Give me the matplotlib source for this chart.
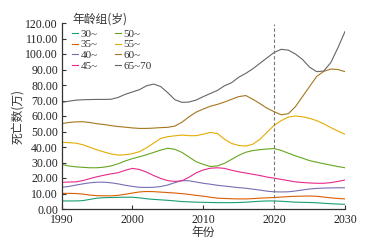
import matplotlib
matplotlib.use("Agg")
import matplotlib.pyplot as plt
import numpy as np

plt.rcParams['font.family'] = ['Liberation Serif', 'Noto Sans CJK SC', 'DejaVu Sans']

years = list(range(1990, 2031))
labels = ["30~", "35~", "40~", "45~", "50~", "55~", "60~", "65~70"]
colors = ["#1b9e77", "#d95f02", "#7570b3", "#e7298a", "#66a61e", "#e6ab02", "#a6761d", "#666666"]
legend_title = "年龄组(岁)"

age_30 = [5.2, 5.2, 5.2, 5.4, 6.2, 7.0, 7.3, 7.4, 7.5, 7.6, 7.6, 7.2, 6.6, 6.2, 5.9, 5.6, 5.2, 4.8, 4.6, 4.4,
          4.3, 4.2, 4.1, 4.1, 4.1, 4.2, 4.4, 4.7, 5.0, 5.2, 5.2, 5.0, 4.7, 4.4, 4.3, 4.2, 4.0, 3.7, 3.4, 3.2, 3.0]
age_35 = [10.1, 10.1, 10.0, 9.6, 9.0, 8.6, 8.5, 8.5, 8.8, 9.5, 10.3, 11.0, 11.3, 11.2, 10.9, 10.6, 10.3, 9.9, 9.4, 8.8,
          8.3, 7.6, 7.0, 6.8, 6.6, 6.5, 6.5, 6.7, 7.0, 7.2, 7.4, 7.7, 8.0, 8.2, 8.3, 8.4, 8.2, 7.7, 7.2, 6.8, 6.5]
age_40 = [14.0, 14.5, 15.4, 16.2, 16.9, 17.3, 17.3, 16.9, 16.2, 15.3, 14.6, 14.0, 13.9, 14.0, 14.5, 15.5, 17.0, 18.3, 18.2, 17.4,
          16.6, 16.0, 15.3, 14.8, 14.3, 13.8, 13.4, 12.8, 12.2, 11.5, 11.1, 11.0, 11.1, 11.6, 12.3, 12.9, 13.3, 13.5, 13.6, 13.7, 13.7]
age_45 = [17.2, 17.4, 17.5, 18.3, 19.6, 20.8, 21.8, 22.7, 23.4, 25.0, 26.2, 25.5, 23.8, 21.6, 19.7, 18.3, 17.8, 18.2, 20.5, 23.3,
          25.2, 26.3, 26.6, 26.2, 25.0, 24.0, 23.2, 22.4, 21.6, 20.6, 19.9, 19.1, 18.3, 17.5, 17.1, 16.8, 16.6, 16.6, 17.0, 17.8, 18.7]
age_50 = [28.8, 27.8, 27.2, 26.9, 26.6, 26.6, 27.0, 27.8, 29.2, 31.0, 32.5, 33.7, 35.0, 36.5, 38.0, 39.2, 38.5, 36.5, 33.5, 30.5,
          28.8, 27.4, 27.8, 29.5, 32.0, 34.6, 36.6, 37.7, 38.3, 38.7, 39.0, 37.8, 36.0, 34.3, 32.8, 31.2, 30.2, 29.2, 28.3, 27.4, 26.6]
age_55 = [43.0, 42.8, 42.5, 41.5, 39.8, 38.2, 36.8, 35.5, 34.8, 35.0, 35.7, 37.0, 39.5, 42.5, 45.5, 46.7, 47.2, 47.7, 47.3, 47.3,
          48.3, 49.4, 48.7, 45.0, 42.3, 41.0, 40.6, 41.8, 45.0, 49.5, 54.0, 57.0, 59.3, 60.0, 59.5, 58.5, 57.0, 55.0, 52.5, 50.3, 48.2]
age_60 = [55.0, 55.8, 56.2, 56.3, 55.8, 55.0, 54.5, 53.8, 53.2, 52.8, 52.3, 52.0, 52.0, 52.2, 52.5, 52.7, 53.5, 56.0, 59.5, 62.5,
          64.5, 66.3, 67.5, 69.0, 70.8, 72.5, 73.2, 70.8, 68.0, 65.0, 62.8, 60.8, 61.5, 66.0, 72.5, 79.0, 85.5, 88.8, 90.3, 90.0, 88.6]
age_65 = [68.8, 69.5, 70.2, 70.5, 70.6, 70.7, 70.7, 70.8, 72.0, 74.0, 75.5, 77.0, 79.5, 80.6, 79.0, 75.0, 70.5, 68.8, 69.0, 70.3,
          72.5, 74.5, 76.5, 79.5, 81.5, 85.0, 87.5, 90.5, 94.0, 97.5, 101.0, 103.0, 102.5, 100.0, 96.5, 91.5, 88.6, 89.0, 94.5, 104.0, 114.5]

series = [age_30, age_35, age_40, age_45, age_50, age_55, age_60, age_65]

W, H = 367, 242
fig = plt.figure(figsize=(W / 100, H / 100), dpi=100)
fig.patch.set_facecolor("white")
ax = fig.add_axes([61.5 / W, 1 - 209 / H, (345 - 61.5) / W, (209 - 23) / H])

for vals, lab, c in zip(series, labels, colors):
    ax.plot(years, vals, color=c, lw=0.8, label=lab)

ax.axvline(2020, color="#777777", lw=0.8, ls=(0, (3, 2)), ymax=0.995)

ax.set_xlim(1990, 2030)
ax.set_ylim(0, 120)
ax.set_xticks([1990, 2000, 2010, 2020, 2030])
ax.set_yticks(np.arange(0, 121, 10))
ax.yaxis.set_major_formatter(matplotlib.ticker.FormatStrFormatter("%.2f"))
for s in ["top", "right"]:
    ax.spines[s].set_visible(False)
for s in ["left", "bottom"]:
    ax.spines[s].set_color("#333333")
    ax.spines[s].set_linewidth(0.9)
ax.tick_params(direction="in", length=3, width=0.8, color="#333333",
               labelsize=8.5, labelcolor="#222222")
ax.tick_params(axis="y", pad=2.5)
ax.tick_params(axis="x", pad=3.8)

ax.set_ylabel("死亡数(万)", fontsize=8.5, color="#333333", labelpad=1,
              family=["Noto Sans CJK SC", "Liberation Serif"])
ax.set_xlabel("年份", fontsize=8.5, color="#333333", labelpad=0,
              family=["Noto Sans CJK SC", "Liberation Serif"])

fig.text(72 / W, 1 - 19 / H, legend_title, fontsize=8.5, color="#333333", va="center", ha="left",
         family=["Noto Sans CJK SC", "Liberation Serif"])

leg = ax.legend(loc="upper left", bbox_to_anchor=(72 / W, 1 - 29 / H), bbox_transform=fig.transFigure,
                ncol=2, frameon=False, fontsize=8,
                handlelength=0.5, handletextpad=0.25, labelspacing=0.08, columnspacing=1.6,
                borderpad=0, borderaxespad=0)
for t in leg.get_texts():
    t.set_color("#333333")

fig.savefig("out.png", dpi=100, facecolor="white")
